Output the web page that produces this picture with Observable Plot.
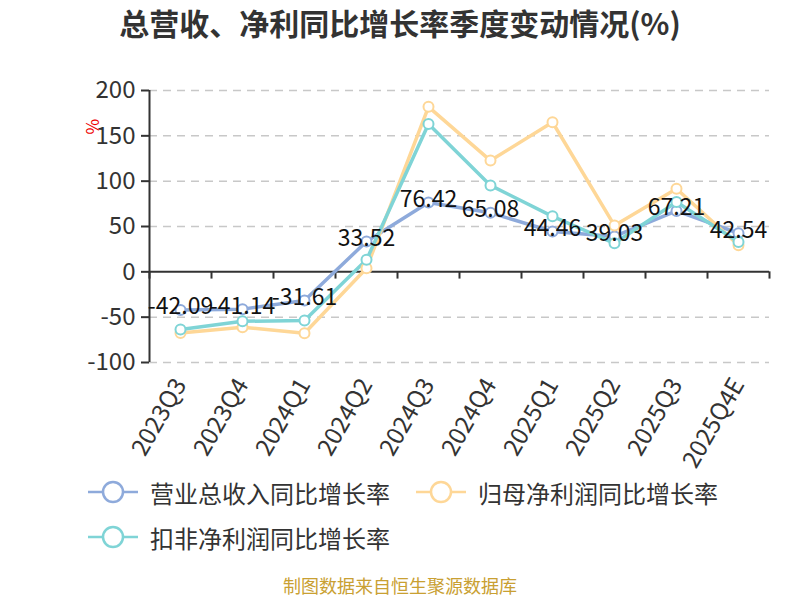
<!DOCTYPE html>
<html><head><meta charset="utf-8">
<script src="https://cdn.jsdelivr.net/npm/d3@7"></script>
<script src="https://cdn.jsdelivr.net/npm/@observablehq/plot@0.6"></script>
<style>
body{margin:0;background:#fff;font-family:"Noto Sans CJK SC","Noto Sans",sans-serif;}
#wrap{width:800px;height:600px;position:relative;overflow:hidden;background:#fff}
#title{height:60px;text-align:center;font-size:30px;font-weight:bold;color:#333;line-height:44px}
#chart{height:415px}
#legend{position:relative;height:97px}
.item{position:absolute;display:flex;align-items:center;font-size:24px;color:#333;height:30px;white-space:nowrap}
.item svg{margin-right:12px}
#footer{text-align:center;color:#c9a032;font-size:18px;line-height:26px;height:26px}
</style></head>
<body><div id="wrap">
<div id="title">总营收、净利同比增长率季度变动情况(%)</div>
<div id="chart"></div>
<div id="legend"></div>
<div id="footer">制图数据来自恒生聚源数据库</div>
</div>
<script>
const quarters = ["2023Q3","2023Q4","2024Q1","2024Q2","2024Q3","2024Q4","2025Q1","2025Q2","2025Q3","2025Q4E"];
const revenue = [-42.09,-41.14,-31.61,33.52,76.42,65.08,44.46,39.03,67.21,42.54];
const netProfit = [-67.4,-61.1,-67.8,4,182,122.7,165,51,91.6,29.3];
const deductedProfit = [-63.7,-54.5,-53.8,13.2,163,95.3,61.2,31.5,77,33];
const yTicks = [-100,-50,0,50,100,150,200];
const seriesNames = ["营业总收入同比增长率","归母净利润同比增长率","扣非净利润同比增长率"];
const colors = ["#8eaadb","#fed797","#7fd4d6"];

const rows = quarters.map((q,i)=>({i, q, rev: revenue[i], np: netProfit[i], dp: deductedProfit[i]}));
const mid = d => d.i + 0.5;
const bounds = d3.range(quarters.length + 1);

const series = [["rev",colors[0]],["np",colors[1]],["dp",colors[2]]];
const lineMarks = [];
for (const [key,c] of series) {
  lineMarks.push(Plot.lineY(rows, {x: mid, y: key, stroke: c, strokeWidth: 3.5}));
}
for (const [key,c] of series) {
  lineMarks.push(Plot.dot(rows, {x: mid, y: key, r: 5, fill: "#fff", stroke: c, strokeWidth: 2}));
}

const chart = Plot.plot({
  width: 800, height: 415,
  marginLeft: 149, marginRight: 31, marginTop: 30, marginBottom: 113,
  style: {fontFamily: "'Noto Sans CJK SC','Noto Sans',sans-serif", background: "#fff", color: "#333"},
  x: {domain: [0, quarters.length]},
  y: {domain: [-100, 200]},
  marks: [
    Plot.ruleY(yTicks.filter(t => t !== 0), {stroke: "#c8c8c8", strokeWidth: 1.5, strokeDasharray: "8,6"}),
    Plot.axisY({ticks: yTicks, tickFormat: d => String(d), tickSize: 8, tickPadding: 6, fontSize: 24, color: "#333", strokeWidth: 2, label: null}),
    Plot.axisX({ticks: quarters.map((q,i) => i + 0.5), tickFormat: v => quarters[Math.floor(v)], tickRotate: -60, tickSize: 0, tickPadding: 18, fontSize: 24, color: "#333", label: null}),
    Plot.ruleX([0], {stroke: "#333", strokeWidth: 2}),
    Plot.ruleY([0], {stroke: "#333", strokeWidth: 2}),
    Plot.ruleX(bounds, {y1: 0, y2: -8, stroke: "#333", strokeWidth: 2}),
    ...lineMarks,
    Plot.text(rows, {x: mid, y: "rev", text: d => String(d.rev), fontSize: 23, fill: "#111", dy: -3}),
    Plot.text(["%"], {frameAnchor: "top-left", dx: -63, dy: 44, rotate: -90, fill: "#e00", fontSize: 17})
  ]
});
document.getElementById("chart").appendChild(chart);

const legend = document.getElementById("legend");
const pos = [[88,2],[416,2],[88,47]];
seriesNames.forEach((name,k) => {
  const div = document.createElement("div");
  div.className = "item";
  div.style.left = pos[k][0] + "px";
  div.style.top = pos[k][1] + "px";
  div.innerHTML = `<svg width="50" height="26"><line x1="0" x2="50" y1="13" y2="13" stroke="${colors[k]}" stroke-width="2.5"/><circle cx="25" cy="13" r="10" fill="#fff" stroke="${colors[k]}" stroke-width="2.5"/></svg><span>${name}</span>`;
  legend.appendChild(div);
});
</script>
</body></html>
